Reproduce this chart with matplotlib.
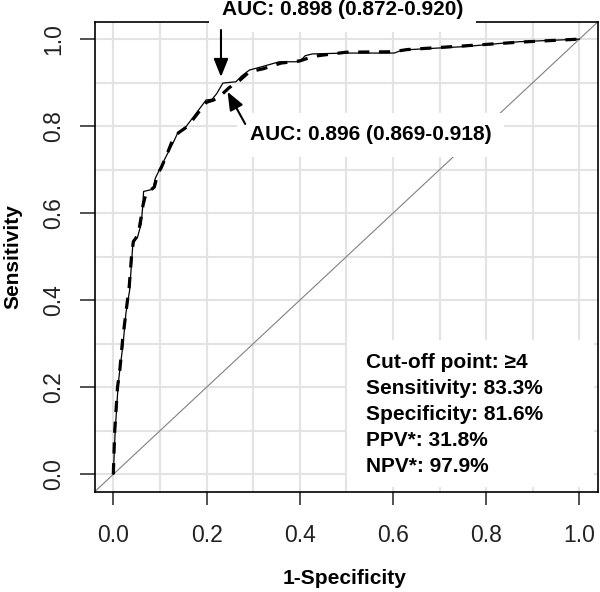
import numpy as np
import matplotlib
matplotlib.use("Agg")
import matplotlib.pyplot as plt
from matplotlib.patches import Rectangle

plt.rcParams['font.family'] = ['Liberation Sans', 'DejaVu Sans']

# ROC curve, model 1 (solid thin line)
fpr_a = [0.0, 0.004, 0.010, 0.013, 0.021, 0.027, 0.035, 0.040, 0.042, 0.052, 0.060,
         0.063, 0.065, 0.085, 0.090, 0.099, 0.113, 0.128, 0.138, 0.156, 0.178, 0.199,
         0.212, 0.222, 0.235, 0.263, 0.275, 0.292, 0.320, 0.356, 0.399, 0.412, 0.427,
         0.499, 0.603, 0.620, 0.756, 0.870, 1.0]
tpr_a = [0.0, 0.100, 0.200, 0.232, 0.300, 0.370, 0.423, 0.500, 0.531, 0.545, 0.577,
         0.615, 0.650, 0.655, 0.680, 0.700, 0.730, 0.761, 0.784, 0.799, 0.830, 0.860,
         0.862, 0.875, 0.899, 0.902, 0.915, 0.929, 0.937, 0.948, 0.948, 0.962, 0.966,
         0.968, 0.968, 0.975, 0.983, 0.994, 1.0]

# ROC curve, model 2 (thick dashed line)
fpr_b = [0.0, 0.003, 0.009, 0.014, 0.020, 0.028, 0.034, 0.039, 0.043, 0.053, 0.058,
         0.064, 0.070, 0.088, 0.095, 0.103, 0.115, 0.126, 0.140, 0.160, 0.180, 0.200,
         0.215, 0.228, 0.248, 0.262, 0.272, 0.292, 0.322, 0.360, 0.400, 0.420, 0.440,
         0.500, 0.600, 0.630, 0.760, 0.870, 1.0]
tpr_b = [0.0, 0.100, 0.200, 0.240, 0.310, 0.380, 0.430, 0.500, 0.535, 0.550, 0.580,
         0.620, 0.645, 0.660, 0.690, 0.705, 0.735, 0.765, 0.785, 0.800, 0.828, 0.855,
         0.860, 0.868, 0.888, 0.898, 0.906, 0.925, 0.932, 0.945, 0.950, 0.957, 0.962,
         0.970, 0.971, 0.976, 0.985, 0.993, 1.0]

auc_labels = ["AUC: 0.898 (0.872-0.920)", "AUC: 0.896 (0.869-0.918)"]
stats_lines = ["Cut-off point: \u22654", "Sensitivity: 83.3%", "Specificity: 81.6%",
               "PPV*: 31.8%", "NPV*: 97.9%"]
ticks = [0.0, 0.2, 0.4, 0.6, 0.8, 1.0]

fig = plt.figure(figsize=(6.0, 5.92), dpi=100)
ax = fig.add_axes([0.1578, 0.1694, 0.8389, 0.7939])
ax.set_xlim(-0.04, 1.04)
ax.set_ylim(-0.04, 1.04)

# light grid every 0.1
for g in np.arange(0, 1.01, 0.1):
    ax.axvline(g, color='#e3e3e3', lw=1.5, zorder=0)
    ax.axhline(g, color='#e3e3e3', lw=1.5, zorder=0)

ax.axline((0, 0), slope=1, color='#808080', lw=0.8, zorder=1)

ax.plot(fpr_b, tpr_b, color='black', lw=2.3, ls=(0, (3.5, 3)), zorder=4)
ax.plot(fpr_a, tpr_a, color='black', lw=0.9, zorder=5)

# labels with white background
ax.text(0.492, 1.067, auc_labels[0], fontsize=15, fontweight='bold', ha='center',
        va='center', zorder=6, clip_on=False,
        bbox=dict(boxstyle='square,pad=0.6', fc='white', ec='none'))
ax.text(0.552, 0.780, auc_labels[1], fontsize=15, fontweight='bold', ha='center',
        va='center', zorder=6,
        bbox=dict(boxstyle='square,pad=0.6', fc='white', ec='none'))

arrow = dict(arrowstyle='-|>,head_length=0.5,head_width=0.2', color='black', lw=1.5,
             mutation_scale=22, shrinkA=0, shrinkB=0)
ax.annotate('', xy=(0.231, 0.913), xytext=(0.231, 1.021), arrowprops=arrow, zorder=7)
ax.annotate('', xy=(0.245, 0.879), xytext=(0.283, 0.805), arrowprops=arrow, zorder=7)

# statistics box
ax.add_patch(Rectangle((0.502, -0.030), 0.529, 0.338, fc='white', ec='none', zorder=3))
for i, line in enumerate(stats_lines):
    ax.text(0.543, 0.244 - i * 0.0598, line, fontsize=15, fontweight='bold',
            ha='left', va='baseline', zorder=6)

ax.set_xticks(ticks)
ax.set_yticks(ticks)
ax.set_xticklabels(["%.1f" % t for t in ticks])
ax.set_yticklabels(["%.1f" % t for t in ticks], rotation=90, va='center')
ax.tick_params(width=1.1, labelsize=16.5, color='#222222', labelcolor='#222222')
ax.tick_params(axis='x', length=9.5, pad=14)
ax.tick_params(axis='y', length=10.5, pad=11)
for s in ax.spines.values():
    s.set_linewidth(1.2)

ax.set_xlabel("1-Specificity", fontsize=15, fontweight='bold')
ax.set_ylabel("Sensitivity", fontsize=15, fontweight='bold')
ax.xaxis.set_label_coords(0.497, -0.165)
ax.yaxis.set_label_coords(-0.143, 0.5)

fig.savefig("out.png", dpi=100)
